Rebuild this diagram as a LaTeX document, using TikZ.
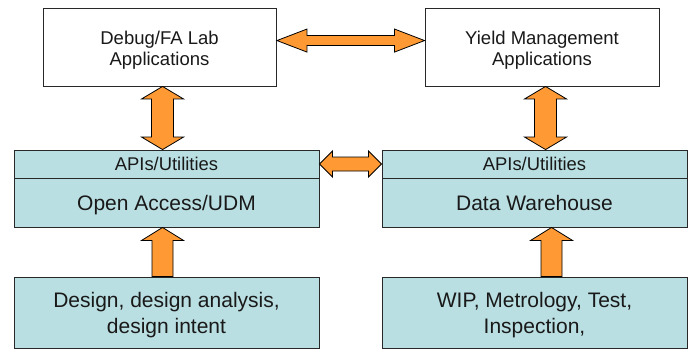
\documentclass[tikz,border=0pt]{standalone}
\usepackage{fontspec}
\setmainfont{Liberation Sans}
\usetikzlibrary{calc}
\definecolor{orng}{RGB}{255,153,51}
\definecolor{teal1}{RGB}{186,223,226}
\definecolor{bord}{RGB}{40,40,40}
\tikzset{
  box/.style={draw=bord, line width=0.9pt, inner sep=0pt},
  appbox/.style={box, fill=white, minimum width=233pt, minimum height=78pt},
  apibox/.style={box, fill=teal1, minimum width=305pt, minimum height=28pt},
  dbbox/.style={box, fill=teal1, minimum width=305pt, minimum height=49pt},
  srcbox/.style={box, fill=teal1, minimum width=305pt, minimum height=71pt},
  txt/.style={anchor=base, inner sep=0pt, text=black!90},
  txtS/.style={txt, font=\fontsize{18.5}{20}\selectfont},
  txtL/.style={txt, font=\fontsize{21}{26}\selectfont},
  blockarrow/.style={draw=black, fill=orng, line width=0.8pt, line join=miter},
}
% horizontal double block arrow from (#1) (left tip) to (#2) (right tip): shaft half #3, head half #4, head length #5
\newcommand\dblH[5]{%
  \draw[blockarrow] let \p1=(#1), \p2=(#2) in
    (\x1,\y1) -- (\x1+#5,\y1+#4) -- (\x1+#5,\y1+#3) -- (\x2-#5,\y2+#3) -- (\x2-#5,\y2+#4)
    -- (\x2,\y2) -- (\x2-#5,\y2-#4) -- (\x2-#5,\y2-#3) -- (\x1+#5,\y1-#3) -- (\x1+#5,\y1-#4) -- cycle;}
% vertical double block arrow from (#1) (top tip) to (#2) (bottom tip)
\newcommand\dblV[5]{%
  \draw[blockarrow] let \p1=(#1), \p2=(#2) in
    (\x1,\y1) -- (\x1+#4,\y1-#5) -- (\x1+#3,\y1-#5) -- (\x2+#3,\y2+#5) -- (\x2+#4,\y2+#5)
    -- (\x2,\y2) -- (\x2-#4,\y2+#5) -- (\x2-#3,\y2+#5) -- (\x1-#3,\y1-#5) -- (\x1-#4,\y1-#5) -- cycle;}
% single upward block arrow from base (#1) to tip (#2)
\newcommand\upA[5]{%
  \draw[blockarrow] let \p1=(#1), \p2=(#2) in
    (\x1-#3,\y1) -- (\x1-#3,\y2-#5) -- (\x1-#4,\y2-#5) -- (\x2,\y2) -- (\x1+#4,\y2-#5)
    -- (\x1+#3,\y2-#5) -- (\x1+#3,\y1) -- cycle;}
\begin{document}
\begin{tikzpicture}[x=1pt,y=-1pt]
\useasboundingbox (0,0) rectangle (691,349);
% boxes
\node[appbox] (dbg) at (159.5,47) {};
\node[appbox, minimum width=234pt] (ym) at (542,47) {};
\node[apibox] (apiL) at (166.5,164) {};
\node[dbbox] (oa) at (166.5,202.5) {};
\node[apibox] (apiR) at (534.5,164) {};
\node[dbbox] (dw) at (534.5,202.5) {};
\node[srcbox] (des) at (166.5,312.5) {};
\node[srcbox] (wip) at (534.5,312.5) {};
% texts (one node per printed line, placed on its baseline)
\node[txtS] (dbgA) at (dbg |- 0,44.5) {Debug/FA Lab};
\node[txtS] (dbgB) at (dbg |- 0,65) {Applications};
\node[txtS] (ymA) at (ym |- 0,44.5) {Yield Management};
\node[txtS] (ymB) at (ym |- 0,65) {Applications};
\node[txtS, font=\fontsize{18.4}{20}\selectfont] (apiLt) at (apiL |- 0,170.7) {APIs/Utilities};
\node[txtS, font=\fontsize{18.4}{20}\selectfont] (apiRt) at (apiR |- 0,170.7) {APIs/Utilities};
\node[txtL] (oat) at (oa |- 0,210.7) {Open Access/UDM};
\node[txtL] (dwt) at (dw |- 0,210.7) {Data Warehouse};
\node[txtL] (desA) at (des |- 0,307.5) {Design, design analysis,};
\node[txtL] (desB) at (des |- 0,333.3) {design intent};
\node[txtL] (wipA) at (wip |- 0,307.5) {WIP, Metrology, Test,};
\node[txtL] (wipB) at (wip |- 0,333.3) {Inspection,};
% connector end points on the box borders
\coordinate (t1) at ($(dbg.north east)+(0.5,33)$);
\coordinate (t2) at ($(ym.north west)+(0,33)$);
\coordinate (m1) at ($(apiL.east)+(0,0)$);
\coordinate (m2) at ($(apiR.west)+(0,0)$);
\coordinate (vl1) at ($(dbg.south west)+(120,0)$);
\coordinate (vl2) at ($(apiL.north west)+(149,0)$);
\coordinate (vr1) at ($(ym.south west)+(121,0)$);
\coordinate (vr2) at ($(apiR.north west)+(164,0)$);
\coordinate (ul1) at ($(des.north west)+(149,0)$);
\coordinate (ul2) at ($(oa.south west)+(149,0)$);
\coordinate (ur1) at ($(wip.north west)+(170,0)$);
\coordinate (ur2) at ($(dw.south west)+(170,0)$);
% arrows
\dblH{t1}{t2}{5pt}{11.5pt}{30pt}
\dblH{m1}{m2}{7pt}{13pt}{13pt}
\dblV{vl1}{vl2}{11pt}{21pt}{12.5pt}
\dblV{vr1}{vr2}{11pt}{21pt}{12.5pt}
\upA{ul1}{ul2}{10.5pt}{21pt}{13pt}
\upA{ur1}{ur2}{10.5pt}{21pt}{13pt}
\end{tikzpicture}
\end{document}
